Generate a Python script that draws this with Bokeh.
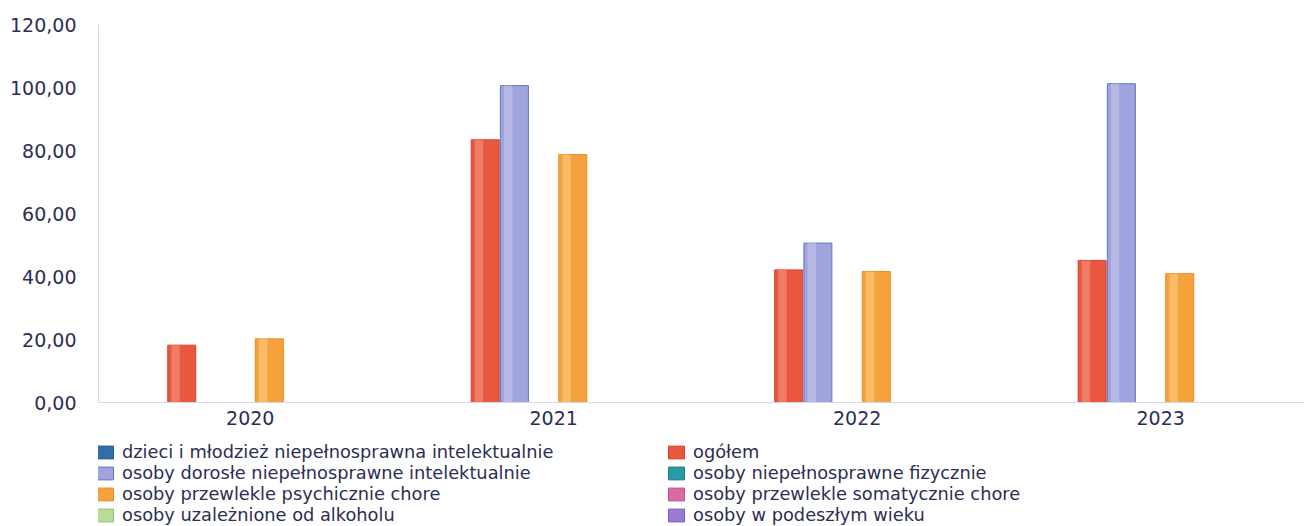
from bokeh.plotting import figure
from bokeh.layouts import column
from bokeh.models import (Range1d, FixedTicker, CustomJSTickFormatter,
                          Legend, LegendItem, ColumnDataSource)
from bokeh.transform import dodge
from bokeh.embed import file_html
from bokeh.resources import INLINE

years = ["2020", "2021", "2022", "2023"]
dzieci = [0, 0, 0, 0]
ogolem = [18.2, 83.4, 42.1, 45.1]
dorosle = [0, 100.6, 50.6, 101.2]
fizycznie = [0, 0, 0, 0]
psychicznie = [20.2, 78.7, 41.6, 40.9]
somatycznie = [0, 0, 0, 0]
alkohol = [0, 0, 0, 0]
podeszly = [0, 0, 0, 0]

series_names = [
    "dzieci i młodzież niepełnosprawna intelektualnie",
    "ogółem",
    "osoby dorosłe niepełnosprawne intelektualnie",
    "osoby niepełnosprawne fizycznie",
    "osoby przewlekle psychicznie chore",
    "osoby przewlekle somatycznie chore",
    "osoby uzależnione od alkoholu",
    "osoby w podeszłym wieku",
]
series_keys = ["dzieci", "ogolem", "dorosle", "fizycznie", "psychicznie",
               "somatycznie", "alkohol", "podeszly"]
fill_colors = ["#2f6fa6", "#e9573f", "#a0a3dc", "#2a9aa8", "#f6a23c",
               "#d86aa8", "#b6dc98", "#9b7ad2"]
edge_colors = ["#1f5a8c", "#d8402c", "#5a78c8", "#1a7f8c", "#f08a20",
               "#c04f90", "#8cc46c", "#7a5ab8"]
light_colors = ["#6a9ccc", "#f59a8a", "#c8cbee", "#6ac2cc", "#fbcf8a",
                "#eca0cc", "#d6eec4", "#c2aaea"]

xpos = [i + 0.5 for i in range(len(years))]
source = ColumnDataSource(data=dict(x=xpos, dzieci=dzieci, ogolem=ogolem,
                                    dorosle=dorosle, fizycznie=fizycznie,
                                    psychicznie=psychicznie, somatycznie=somatycznie,
                                    alkohol=alkohol, podeszly=podeszly))

p = figure(x_range=Range1d(0, 3.974), y_range=Range1d(0, 120),
           width=1304, height=432, output_backend="svg", toolbar_location=None,
           min_border_left=98, min_border_top=24, min_border_bottom=30,
           min_border_right=0)

slot = 0.0962
bw = 0.0923
shift = 0.0148
for i, key in enumerate(series_keys):
    off = (i - 3.5) * slot + shift
    p.vbar(x=dodge("x", off), top=key, width=bw,
           source=source, fill_color=fill_colors[i],
           line_color=edge_colors[i], line_width=1)
    p.vbar(x=dodge("x", off - 0.22 * bw), top=key,
           width=bw * 0.3, source=source, fill_color=light_colors[i],
           fill_alpha=0.55, line_color=None)

p.xgrid.visible = False
p.ygrid.visible = False
p.outline_line_color = None
p.background_fill_color = "white"
p.border_fill_color = "white"

txt = "#2b2e55"
p.yaxis.ticker = FixedTicker(ticks=[0, 20, 40, 60, 80, 100, 120])
p.yaxis.formatter = CustomJSTickFormatter(code="return tick.toFixed(2).replace('.', ',');")
p.yaxis.major_tick_line_color = None
p.yaxis.major_tick_out = 0
p.yaxis.minor_tick_line_color = None
p.yaxis.minor_tick_out = 0
p.yaxis.axis_line_color = "#d4d7e6"
p.yaxis.major_label_standoff = 22
p.yaxis.major_label_text_font = "DejaVu Sans"
p.yaxis.major_label_text_font_size = "19px"
p.yaxis.major_label_text_color = txt

p.xaxis.ticker = FixedTicker(ticks=xpos)
p.xaxis.major_label_overrides = {x: y for x, y in zip(xpos, years)}
p.xaxis.major_tick_line_color = None
p.xaxis.major_tick_out = 0
p.xaxis.minor_tick_line_color = None
p.xaxis.minor_tick_out = 0
p.xaxis.axis_line_color = "#d4d7e6"
p.xaxis.major_label_standoff = 8
p.xaxis.major_label_text_font = "DejaVu Sans"
p.xaxis.major_label_text_font_size = "19px"
p.xaxis.major_label_text_color = txt

# legend panel below the chart
q = figure(x_range=Range1d(0, 1), y_range=Range1d(0, 1), width=1304, height=94,
           output_backend="svg", toolbar_location=None,
           min_border_left=0, min_border_right=0, min_border_top=0, min_border_bottom=0)
q.axis.visible = False
q.xgrid.visible = False
q.ygrid.visible = False
q.outline_line_color = None
q.border_fill_color = "white"

legend_renderers = []
for i, key in enumerate(series_keys):
    r = q.vbar(x="x", top=key, width=0.1, source=source, fill_color=fill_colors[i],
               line_color=edge_colors[i], line_width=1, visible=False)
    legend_renderers.append(r)

def make_legend(idx, loc):
    lg = Legend(items=[LegendItem(label=series_names[i], renderers=[legend_renderers[i]]) for i in idx],
                location=loc, orientation="vertical")
    lg.label_text_font = "DejaVu Sans"
    lg.label_text_font_size = "17.8px"
    lg.label_text_color = txt
    lg.glyph_width = 20
    lg.glyph_height = 16
    lg.label_height = 20
    lg.label_standoff = 7
    lg.spacing = 0
    lg.padding = 0
    lg.margin = 0
    lg.border_line_color = None
    lg.background_fill_alpha = 0
    lg.click_policy = "none"
    return lg

q.add_layout(make_legend([0, 2, 4, 6], (-3, 1)))
q.add_layout(make_legend([1, 3, 5, 7], (568, 1)))

layout = column(p, q, spacing=0)
open("out.html", "w").write(file_html(layout, INLINE))
